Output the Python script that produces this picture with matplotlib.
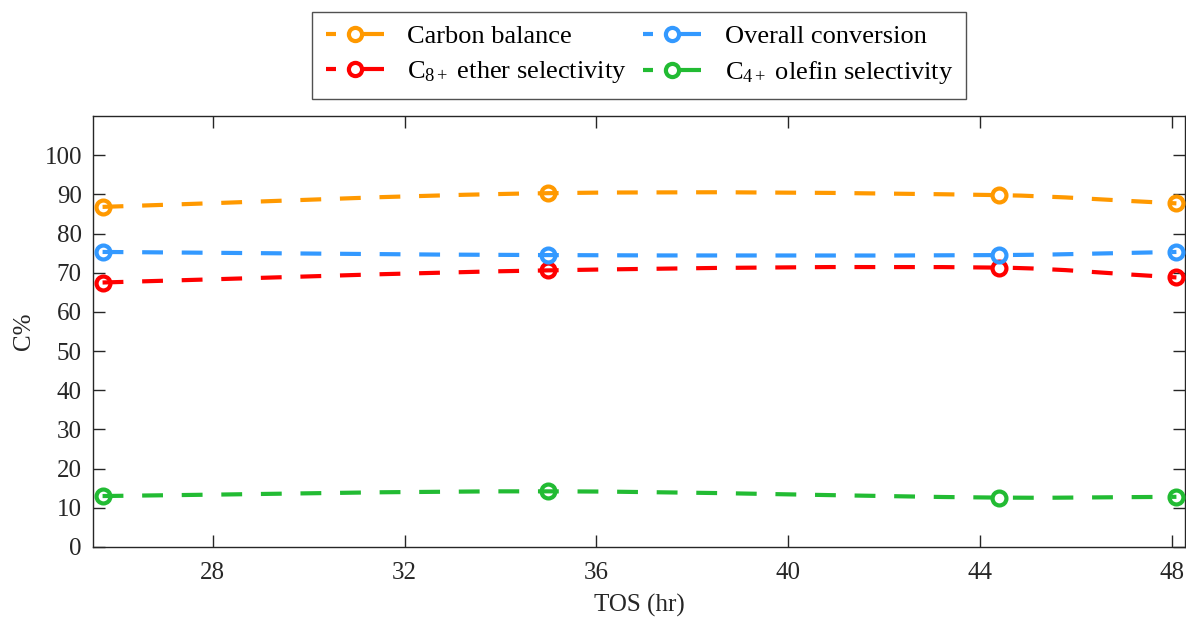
import numpy as np
import matplotlib.pyplot as plt
from matplotlib.path import Path
from matplotlib.patches import PathPatch
from matplotlib.lines import Line2D

plt.rcParams['font.family'] = 'Liberation Serif'
plt.rcParams['mathtext.fontset'] = 'custom'
plt.rcParams['mathtext.rm'] = 'Liberation Serif'
plt.rcParams['mathtext.it'] = 'Liberation Serif:italic'

# time on stream (hr) and measured values (C%)
tos = [25.7, 35.0, 44.4, 48.1]
carbon_balance = [86.8, 90.3, 89.8, 87.7]
overall_conversion = [75.3, 74.5, 74.5, 75.3]
ether_selectivity = [67.5, 70.6, 71.3, 68.8]
olefin_selectivity = [13.0, 14.2, 12.6, 12.8]

series = [carbon_balance, ether_selectivity, overall_conversion, olefin_selectivity]
labels = ['Carbon balance', r'C$_{8+}$ ether selectivity',
          'Overall conversion', r'C$_{4+}$ olefin selectivity']
colors = ['#FF9900', '#FF0000', '#3399FF', '#22BB33']

xticks = [28, 32, 36, 40, 44, 48]
yticks = list(range(0, 101, 10))

FS = 18
LEG_FS = 19
LW = 3.0
DASH = (0, (5, 4.5))
LEG_DASH = (0, (2.4, 6.0, 6.0, 3.0))
INK = '#262626'


def smooth_path(x, y):
    # cubic Hermite segments written as Bezier curves
    x = np.asarray(x, float)
    y = np.asarray(y, float)
    n = len(x)
    m = np.zeros(n)
    for i in range(n):
        if i == 0:
            m[i] = (y[1] - y[0]) / (x[1] - x[0])
        elif i == n - 1:
            m[i] = (y[-1] - y[-2]) / (x[-1] - x[-2])
        else:
            m[i] = (y[i + 1] - y[i - 1]) / (x[i + 1] - x[i - 1])
    verts = [(x[0], y[0])]
    codes = [Path.MOVETO]
    for i in range(n - 1):
        h = (x[i + 1] - x[i]) / 3
        verts += [(x[i] + h, y[i] + h * m[i]),
                  (x[i + 1] - h, y[i + 1] - h * m[i + 1]),
                  (x[i + 1], y[i + 1])]
        codes += [Path.CURVE4] * 3
    return Path(verts, codes)


fig = plt.figure(figsize=(11.86, 6.17), dpi=100)
ax = fig.add_axes([0.0784, 0.1135, 0.9208, 0.6985])

handles = []
for vals, lab, col in zip(series, labels, colors):
    patch = PathPatch(smooth_path(tos, vals), fill=False, edgecolor=col,
                      lw=LW, linestyle=DASH, capstyle='butt', zorder=2)
    ax.add_patch(patch)
    ax.plot(tos, vals, linestyle='none', marker='o', ms=10, mew=3,
            mfc='none', mec=col, zorder=3)
    handles.append(Line2D([], [], color=col, lw=LW, linestyle=LEG_DASH,
                          marker='o', ms=9.5, mew=3, mfc='none', mec=col,
                          dash_capstyle='butt'))

ax.set_xlim(25.5, 48.28)
ax.set_ylim(0, 110)
ax.set_xticks(xticks)
ax.set_yticks(yticks)
ax.tick_params(direction='in', length=8.5, width=1, top=True, right=True,
               labelsize=FS, labelcolor=INK, color=INK)
ax.tick_params(axis='x', pad=11)
ax.tick_params(axis='y', pad=8)
for s in ax.spines.values():
    s.set_linewidth(1)
    s.set_color(INK)

ax.set_xlabel('TOS (hr)', fontsize=FS, color=INK, labelpad=7)
ax.set_ylabel('C%', fontsize=FS, color=INK, labelpad=7)

leg = fig.legend(handles, labels, ncol=2, loc='upper center',
                 bbox_to_anchor=(0.539, 0.981), fontsize=LEG_FS, frameon=True,
                 fancybox=False, edgecolor=INK, handlelength=2.2,
                 handletextpad=0.9, columnspacing=0.6, labelspacing=0.4,
                 borderpad=0.5, borderaxespad=0)
leg.get_frame().set_linewidth(1)

fig.savefig('out.png', dpi=100)
